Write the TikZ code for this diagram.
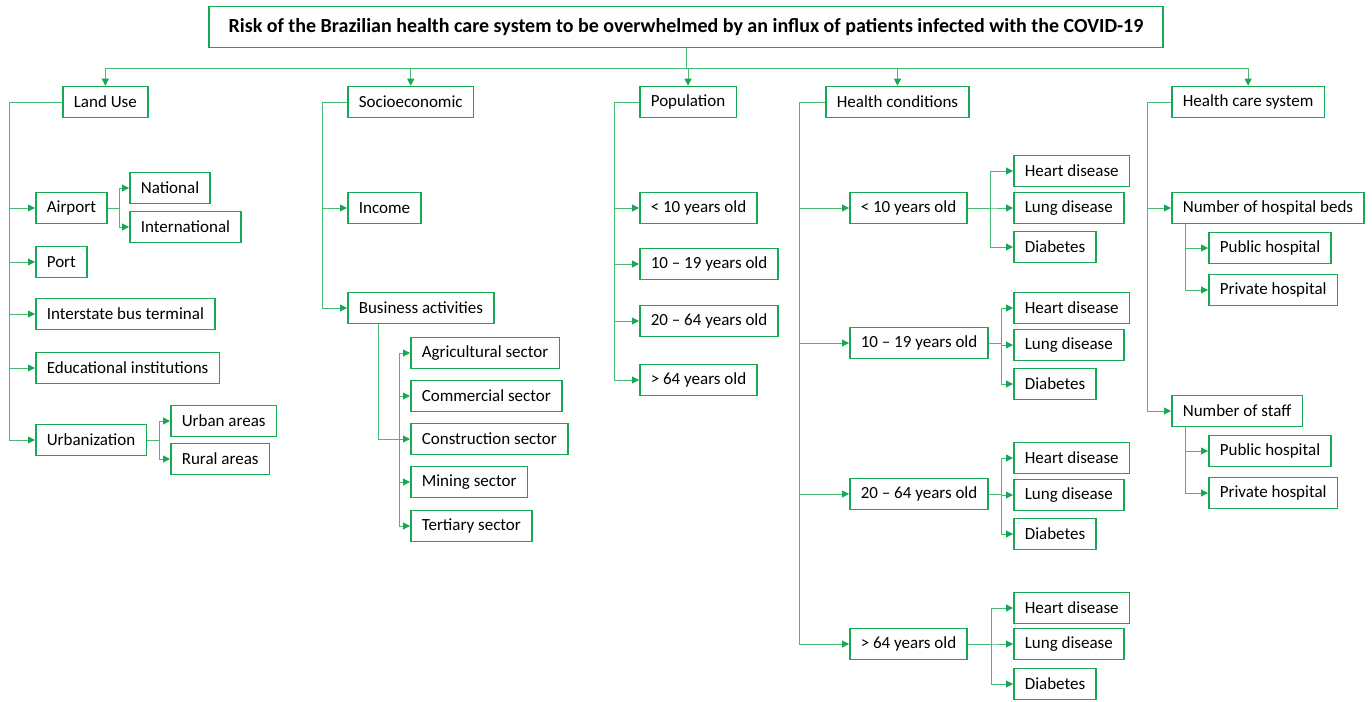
\documentclass[tikz,border=0pt]{standalone}
\usepackage{fontspec}
\setmainfont{Carlito}
\usetikzlibrary{arrows.meta}
\definecolor{boxgreen}{RGB}{24,168,84}
\definecolor{linegreen}{RGB}{70,185,115}
\tikzset{
    box/.style={draw=boxgreen,line width=1.6pt,minimum height=31pt,inner xsep=11pt,inner ysep=0pt,anchor=west,font=\fontsize{17}{20}\selectfont},
    ttl/.style={box,anchor=center,minimum height=41pt,minimum width=954pt,font=\fontsize{20}{24}\selectfont\bfseries},
    line/.style={draw=linegreen,line width=1pt},
    arr/.style={line,-{Triangle[length=7pt,width=7pt,color=boxgreen]}},
}

\begin{document}
\begin{tikzpicture}[x=1pt,y=-1pt]
            \useasboundingbox (0,0) rectangle (1372,701);
            \node[ttl] (title) at (686,27) {Risk of the Brazilian health care system to be overwhelmed by an influx of patients infected with the COVID-19};
            \node[box] (lu) at (62,102) {Land Use};
            \node[box] (soc) at (347,102) {Socioeconomic};
            \node[box] (pop) at (639,102) {Population};
            \node[box] (hlth) at (825,102) {Health conditions};
            \node[box] (hcs) at (1171,102) {Health care system};
            \foreach \n in {lu,soc,pop,hlth,hcs}{
                \draw[arr] (title.south) -- ++(0,20) -| (\n.north);
            }
            \node[box] (airport) at (35,208) {Airport};
            \node[box] (nat) at (129,188) {National};
            \node[box] (intl) at (129,227) {International};
            \node[box] (port) at (35,262) {Port};
            \node[box] (bus) at (35,314) {Interstate bus terminal};
            \node[box] (edu) at (35,368) {Educational institutions};
            \node[box] (urb) at (35,440) {Urbanization};
            \node[box] (urbar) at (170,421) {Urban areas};
            \node[box] (rural) at (170,459) {Rural areas};
            \foreach \n in {airport,port,bus,edu,urb}{
                \draw[arr] (lu.west) -| ([xshift=-26pt]\n.west) -- (\n.west);
            }
            \foreach \n in {nat,intl}{
                \draw[arr] (airport.east) -- ++(12,0) |- (\n.west);
            }
            \foreach \n in {urbar,rural}{
                \draw[arr] (urb.east) -- ++(12,0) |- (\n.west);
            }
            \node[box] (inc) at (347,208) {Income};
            \node[box] (bact) at (347,308) {Business activities};
            \node[box] (agr) at (410,353) {Agricultural sector};
            \node[box] (com) at (410,396) {Commercial sector};
            \node[box] (con) at (410,439) {Construction sector};
            \node[box] (min) at (410,482) {Mining sector};
            \node[box] (ter) at (410,526) {Tertiary sector};
            \foreach \n in {inc,bact}{
                \draw[arr] (soc.west) -| ([xshift=-25pt]\n.west) -- (\n.west);
            }
            \coordinate (bsplit) at (399,439);
            \draw[line] ([xshift=31pt]bact.south west) |- (bsplit);
            \foreach \n in {agr,com,con,min,ter}{
                \draw[arr] (bsplit) |- (\n.west);
            }
            \node[box] (pa) at (639,208) {< 10 years old};
            \node[box] (pb) at (639,264) {10 -- 19 years old};
            \node[box] (pc) at (639,321) {20 -- 64 years old};
            \node[box] (pd) at (639,380) {> 64 years old};
            \foreach \n in {pa,pb,pc,pd}{
                \draw[arr] (pop.west) -| ([xshift=-25pt]\n.west) -- (\n.west);
            }
            \node[box] (ha) at (849,208) {< 10 years old};
            \node[box] (hb) at (849,343) {10 -- 19 years old};
            \node[box] (hc) at (849,494) {20 -- 64 years old};
            \node[box] (hd) at (849,644) {> 64 years old};
            \foreach \n in {ha,hb,hc,hd}{
                \draw[arr] (hlth.west) -| ([xshift=-50pt]\n.west) -- (\n.west);
            }
            \foreach \a/\h/\l/\d/\s in {a/171/208/247/23,b/308/345/384/12,c/458/495/534/12,d/608/644/684/22}{
                \node[box] (heart\a) at (1013,\h) {Heart disease};
                \node[box] (lung\a) at (1013,\l) {Lung disease};
                \node[box] (diab\a) at (1013,\d) {Diabetes};
                \foreach \m in {heart,lung,diab}{
                    \draw[arr] (h\a.east) -| ([xshift=-\s pt]\m\a.west) -- (\m\a.west);
                }
            }
            \node[box] (beds) at (1171,208) {Number of hospital beds};
            \node[box] (pub1) at (1208,248) {Public hospital};
            \node[box] (priv1) at (1208,290) {Private hospital};
            \node[box] (staff) at (1171,411) {Number of staff};
            \node[box] (pub2) at (1208,451) {Public hospital};
            \node[box] (priv2) at (1208,493) {Private hospital};
            \foreach \n in {beds,staff}{
                \draw[arr] (hcs.west) -| ([xshift=-24pt]\n.west) -- (\n.west);
            }
            \foreach \n in {pub1,priv1}{
                \draw[arr] ([xshift=14pt]beds.south west) |- (\n.west);
            }
            \foreach \n in {pub2,priv2}{
                \draw[arr] ([xshift=14pt]staff.south west) |- (\n.west);
            }
        \end{tikzpicture}
\end{document}
